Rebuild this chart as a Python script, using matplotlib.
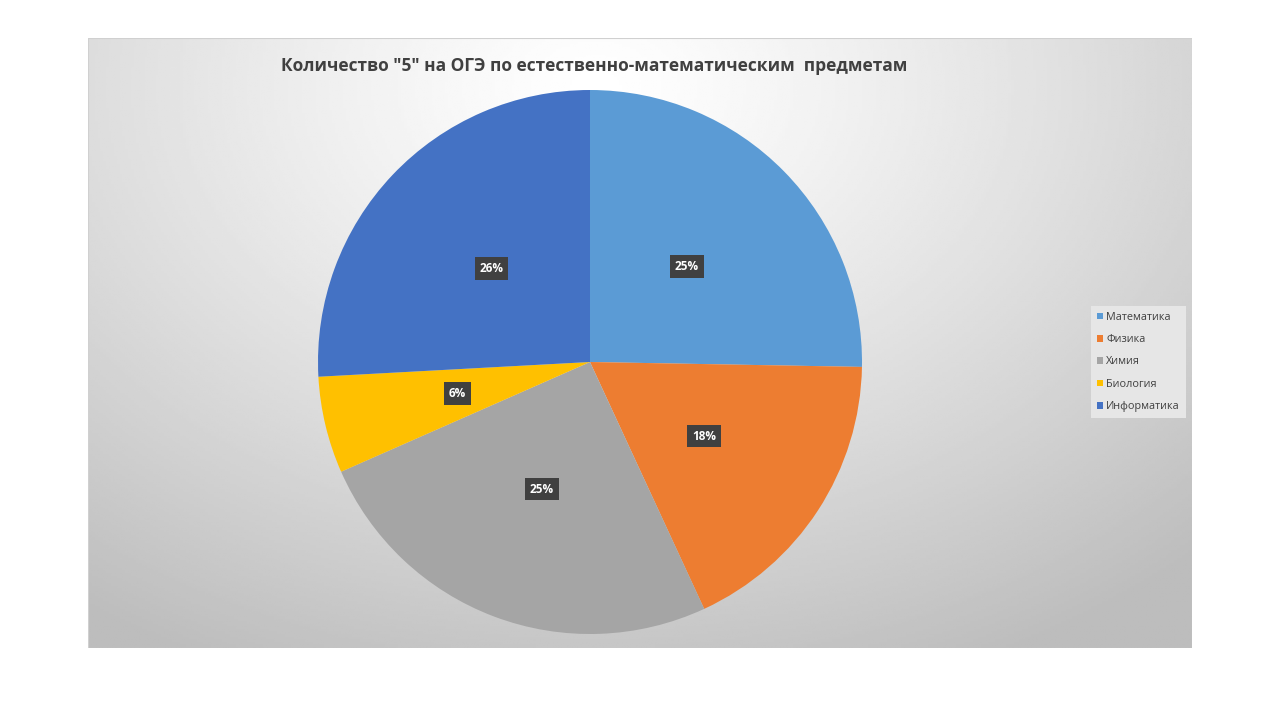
import numpy as np
import matplotlib
matplotlib.use("Agg")
from matplotlib import pyplot as plt

# data
subjects = ["Математика", "Физика", "Химия", "Биология", "Информатика"]
counts = [44, 31, 44, 10, 45]
colors = ["#5B9BD5", "#ED7D31", "#A5A5A5", "#FFC000", "#4472C4"]
title = 'Количество "5" на ОГЭ по естественно-математическим  предметам'

W, H = 1280, 720
fig = plt.figure(figsize=(W / 100, H / 100), dpi=100)
fig.patch.set_facecolor("white")

# chart area with radial gradient background
x0, x1, y0, y1 = 88, 1192, 38, 648
bg = fig.add_axes([x0 / W, 1 - y1 / H, (x1 - x0) / W, (y1 - y0) / H])
gx, gy = np.meshgrid(np.linspace(0, 1, 400), np.linspace(0, 1, 240))
d = np.sqrt(((gx - 0.46) / 0.8) ** 2 + ((gy - 0.08) / 1.05) ** 2)
d = np.clip(d, 0, 1)
shade = 1.0 - 0.26 * d ** 1.2
bg.imshow(shade, cmap="gray", vmin=0, vmax=1, extent=[0, 1, 1, 0], aspect="auto")
bg.set_axis_off()
bg.add_patch(plt.Rectangle((0, 0), 1, 1, fill=False, ec="#d0d0d0", lw=0.8,
                           transform=bg.transAxes))

# pie
cx, cy, r = 590, 362, 272
ax = fig.add_axes([(cx - r) / W, 1 - (cy + r) / H, 2 * r / W, 2 * r / H])
wedges, texts, autotexts = ax.pie(
    counts, colors=colors, startangle=90, counterclock=False,
    autopct=lambda p: "%d%%" % round(p), pctdistance=0.5,
    wedgeprops=dict(linewidth=0),
    textprops=dict(color="white", fontsize=8.5, fontweight="bold",
                   family="Open Sans"))
for t in autotexts:
    t.set_bbox(dict(boxstyle="square,pad=0.4", fc="#404040", ec="none"))
ax.set_xlim(-1, 1)
ax.set_ylim(-1, 1)
ax.set_aspect("equal")

# title
fig.text(594 / W, 1 - 66 / H, title, ha="center", va="center",
         fontsize=12.5, fontweight="bold", color="#404040", family="Open Sans")

# legend
leg = fig.legend(wedges, subjects, loc="center left",
                 bbox_to_anchor=(1091 / W, 1 - 362 / H),
                 prop=dict(family="Open Sans", size=7.8),
                 frameon=True, fancybox=False, handlelength=0.55, handleheight=0.55,
                 handletextpad=0.3, labelspacing=1.05, borderpad=0.55,
                 borderaxespad=0)
leg.get_frame().set_facecolor("#e6e6e6")
leg.get_frame().set_edgecolor("none")
leg.get_frame().set_alpha(1)
for t in leg.get_texts():
    t.set_color("#404040")

fig.savefig("out.png", dpi=100)
